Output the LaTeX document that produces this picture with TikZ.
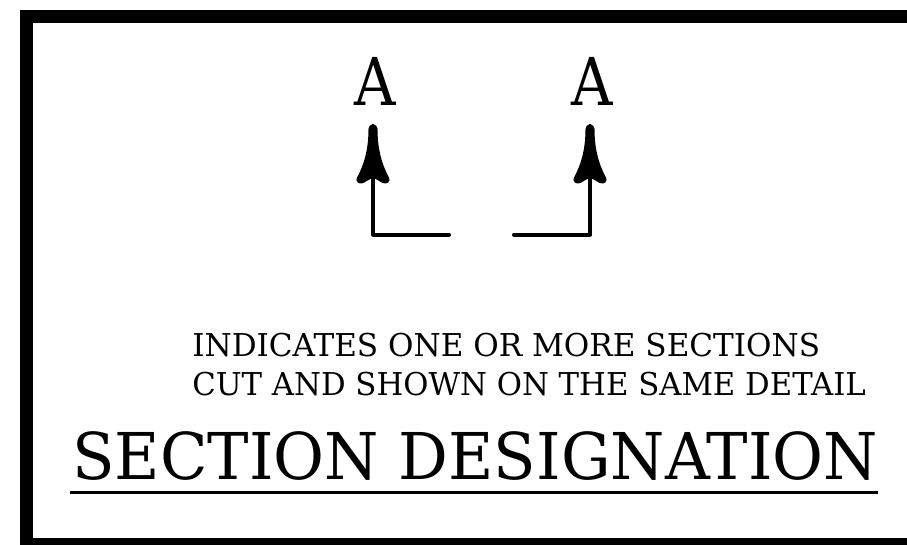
\documentclass[tikz,border=0pt]{standalone}
\usepackage{fontspec}
\setmainfont{DejaVu Serif}
\newfontfamily\titlefont[FakeStretch=0.963]{DejaVu Serif}
\newfontfamily\letterfont[FakeStretch=0.87]{DejaVu Serif}
\newfontfamily\notefont[FakeStretch=0.977]{DejaVu Serif}
\newfontfamily\notefontb[FakeStretch=0.988]{DejaVu Serif}
\newlength{\pxu}
\setlength{\pxu}{0.75pt}
\tikzset{
  x=\pxu,y=-\pxu,
  frameline/.style={draw=black,line width=13\pxu,line join=miter},
  cutline/.style={draw=black,line width=4\pxu,line join=round,line cap=round},
  headfill/.style={fill=black,draw=black,line width=3\pxu,line join=round},
  lab/.style={inner sep=0pt,anchor=base,text=black},
  biglab/.style={lab,font=\letterfont\fontsize{49.5}{49.5}\selectfont},
  smalllab/.style={lab,anchor=base west},
}
\begin{document}
\begin{tikzpicture}
\useasboundingbox (0,0) rectangle (907,544);
\fill[white] (0,0) rectangle (907,544);
\coordinate (tl) at (26.5,16.5);
\coordinate (br) at (930,544.5);
\begin{scope}
\clip (0,0) rectangle (907,544);
\draw[frameline] (tl) rectangle (br);
\end{scope}
\node[biglab] (a1) at (375,105) {A};
\node[biglab] (a2) at (592,105) {A};
\coordinate (l1) at (449,234.5);
\coordinate (c1) at (373,234.5);
\coordinate (t1) at (373,126);
\coordinate (l2) at (514,234.5);
\coordinate (c2) at (590,234.5);
\coordinate (t2) at (590,126);
\draw[cutline] (l1) -- (c1) -- (t1);
\draw[cutline] (l2) -- (c2) -- (t2);
\foreach \n in {t1,t2}{
  \begin{scope}[shift={(\n)}]
  \path[headfill] (-3,3) .. controls (-3,20) and (-6,36) .. (-14.5,52)
    .. controls (-16.5,55) and (-13,57) .. (-10,55.5)
    .. controls (-6,53) and (-3,51.5) .. (0,50)
    .. controls (3,51.5) and (6,53) .. (10,55.5)
    .. controls (13,57) and (16.5,55) .. (14.5,52)
    .. controls (6,36) and (3,20) .. (3,3)
    .. controls (3,-1) and (-3,-1) .. (-3,3) -- cycle;
  \end{scope}
}
\node[smalllab,font=\notefontb\fontsize{23.6}{23.6}\selectfont] (t1a) at (192,356) {INDICATES ONE OR MORE SECTIONS};
\node[smalllab,font=\notefont\fontsize{23.6}{23.6}\selectfont] (t2a) at (192,395) {CUT AND SHOWN ON THE SAME DETAIL};
\node[lab,anchor=base west,font=\titlefont\fontsize{48.4}{48.4}\selectfont] (title) at (72,479) {SECTION DESIGNATION};
\coordinate (u1) at (70,492.5);
\coordinate (u2) at (878,492.5);
\draw[draw=black,line width=3\pxu] (u1) -- (u2);
\end{tikzpicture}
\end{document}
